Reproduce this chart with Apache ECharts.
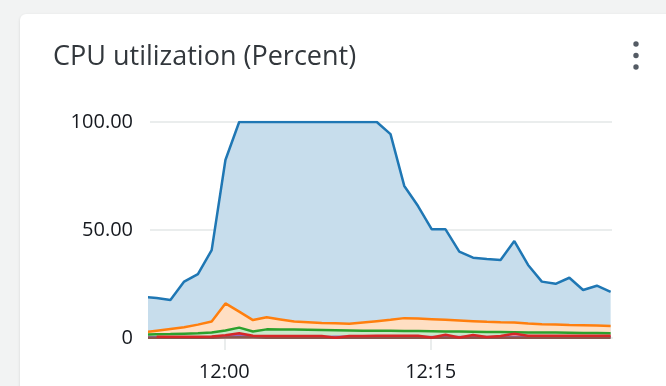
<!DOCTYPE html>
<html>
<head>
<meta charset="utf-8">
<script src="https://cdn.jsdelivr.net/npm/echarts@6/dist/echarts.min.js"></script>
<style>
html,body{margin:0;padding:0;background:#f2f3f3;}
#chart{width:666px;height:386px;}
</style>
</head>
<body>
<div id="chart"></div>
<script>
// ---- data (one sample per minute) ----
const times = ['11:54:05','11:55:05','11:56:05','11:57:05','11:58:05','11:59:05','12:00:05','12:01:05','12:02:05','12:03:05',
               '12:04:05','12:05:05','12:06:05','12:07:05','12:08:05','12:09:05','12:10:05','12:11:05','12:12:05','12:13:05',
               '12:14:05','12:15:05','12:16:05','12:17:05','12:18:05','12:19:05','12:20:05','12:21:05','12:22:05','12:23:05',
               '12:24:05','12:25:05','12:26:05','12:27:05','12:28:05'];
const cpuBlue   = [19.0,18.5,17.6,26.1,29.6,40.7,82.4,100,100,100,100,100,100,100,100,100,100,100,94.4,70.4,61.1,50.3,50.3,40.0,37.2,36.6,36.1,44.9,33.8,26.1,25.1,27.9,22.2,24.2,21.4];
const cpuOrange = [2.6,3.4,4.2,5.0,6.2,7.6,16.0,12.2,8.3,9.6,8.6,7.6,7.3,7.0,6.8,6.6,7.2,7.8,8.4,9.2,9.0,8.7,8.4,8.1,7.8,7.5,7.3,7.2,6.7,6.4,6.2,6.0,5.9,5.8,5.6];
const cpuGreen  = [1.6,1.7,1.8,2.0,2.2,2.5,3.5,4.8,3.0,4.0,3.9,3.9,3.8,3.7,3.6,3.5,3.4,3.3,3.3,3.2,3.2,3.1,3.0,3.0,2.9,2.8,2.8,2.7,2.6,2.5,2.5,2.4,2.3,2.3,2.2];
const cpuPurple = [0.4,0.4,0.4,0.4,0.4,0.4,0.7,1.4,0.6,0.5,0.5,0.5,0.5,0.5,0.6,0.6,0.5,0.5,0.5,0.5,0.5,0.5,0.5,0.5,0.5,0.5,0.5,0.5,0.5,0.5,0.5,0.5,0.5,0.5,0.5];
const cpuBrown  = [0.15,0.15,0.15,0.15,0.15,0.15,0.2,0.4,0.2,0.15,0.15,0.15,0.15,0.15,0.15,0.15,0.15,0.15,0.15,0.15,0.15,0.15,0.15,0.15,0.15,0.15,0.15,0.15,0.15,0.15,0.15,0.15,0.15,0.15,0.15];
const cpuRed    = [null,0.6,0.6,0.6,0.6,0.7,1.3,2.2,1.0,0.9,0.9,0.9,0.9,0.9,0.1,0.9,0.9,1.0,1.0,1.0,1.0,0.2,1.5,0.2,1.4,0.5,0.9,2.0,1.0,1.0,1.0,1.0,1.0,1.0,1.0];
const yTicks = [0, 50, 100];
const xTickLabels = ['12:00:00', '12:15:00'];
const axisStart = '11:54:36';
const axisEnd = '12:28:11';
const refTime = '12:00:00';

// minutes relative to refTime
function toMin(s){
  const p = s.split(':').map(Number);
  const r = refTime.split(':').map(Number);
  return (p[0]*3600 + p[1]*60 + (p[2]||0) - (r[0]*3600 + r[1]*60 + (r[2]||0))) / 60;
}
function pad(n){ return (n < 10 ? '0' : '') + n; }
function fmtMin(v){
  const r = refTime.split(':').map(Number);
  let total = Math.round(r[0]*60 + r[1] + v);
  return pad(Math.floor(total/60)) + ':' + pad(total % 60);
}

const seriesDefs = [
  {name:'cpu-a', data:cpuBlue,   line:'#1f77b4', fill:'#c7ddec'},
  {name:'cpu-b', data:cpuOrange, line:'#ff7f0e', fill:'#ffdfc3'},
  {name:'cpu-c', data:cpuGreen,  line:'#2ca02c', fill:'#cae7ca'},
  {name:'cpu-d', data:cpuPurple, line:'#9467bd', fill:'#e4d9ef'},
  {name:'cpu-e', data:cpuBrown,  line:'#8c564b', fill:'#e2d5d2'},
  {name:'cpu-f', data:cpuRed,    line:'#d62728', fill:'#f5c9c9'}
];

const chart = echarts.init(document.getElementById('chart'), null, {renderer:'canvas'});
const FONT = '"Open Sans", "Noto Sans", sans-serif';
chart.setOption({
  backgroundColor: '#f2f3f3',
  animation: false,
  graphic: [
    {type:'rect', z:-10, shape:{x:20, y:14, width:700, height:420, r:6},
     style:{fill:'#ffffff', shadowBlur:3, shadowColor:'rgba(0,0,0,0.12)', shadowOffsetY:1}},
    {type:'circle', shape:{cx:636, cy:44, r:2.7}, style:{fill:'#545b64'}},
    {type:'circle', shape:{cx:636, cy:55.5, r:2.7}, style:{fill:'#545b64'}},
    {type:'circle', shape:{cx:636, cy:67, r:2.7}, style:{fill:'#545b64'}}
  ],
  title: {
    text: 'CPU utilization (Percent)',
    left: 48, top: 39,
    textStyle: {fontFamily: FONT, fontSize: 27, fontWeight: 'normal', color: '#32373c'}
  },
  grid: {left:150, right:54, top:122, bottom:48, containLabel:false},
  xAxis: {
    type: 'value',
    min: toMin(axisStart),
    max: toMin(axisEnd),
    axisLine: {show:true, onZero:false, lineStyle:{color:'#eaeded', width:2}},
    axisTick: {show:true, length:12, lineStyle:{color:'#eaeded', width:2},
               customValues: xTickLabels.map(toMin)},
    axisLabel: {
      customValues: xTickLabels.map(toMin),
      margin: 24,
      fontFamily: FONT, fontSize: 20, color: '#16191f',
      formatter: fmtMin
    },
    splitLine: {show:false}
  },
  yAxis: {
    type: 'value',
    min: yTicks[0], max: yTicks[yTicks.length-1], interval: yTicks[1]-yTicks[0],
    axisLine: {show:false},
    axisTick: {show:true, length:10, lineStyle:{color:'#eaeded', width:2}},
    splitLine: {show:true, lineStyle:{color:'#eaeded', width:2}},
    axisLabel: {
      margin: 17, fontFamily: FONT, fontSize: 20, color: '#16191f',
      formatter: function(v){ return v === 0 ? '0' : v.toFixed(2); }
    }
  },
  series: seriesDefs.map(function(s){
    return {
      name: s.name,
      type: 'line',
      showSymbol: false,
      symbol: 'none',
      connectNulls: false,
      clip: true,
      data: times.map(function(t, i){ return [toMin(t), s.data[i]]; }),
      lineStyle: {color: s.line, width: 2.5},
      itemStyle: {color: s.line},
      areaStyle: {color: s.fill, opacity: 1}
    };
  })
});
</script>
</body>
</html>
